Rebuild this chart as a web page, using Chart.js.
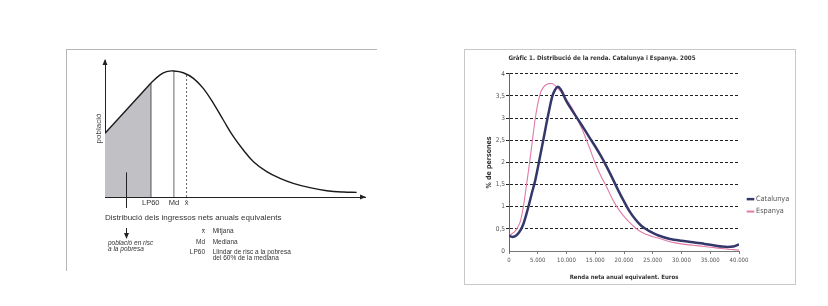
<!DOCTYPE html>
<html lang="ca">
<head>
<meta charset="utf-8">
<title>Distribució de la renda</title>
<script src="https://cdn.jsdelivr.net/npm/chart.js@4/dist/chart.umd.min.js"></script>
<style>
  body { margin: 0; background: #fff; width: 828px; height: 306px; position: relative; overflow: hidden; }
  .marc-esquema { position: absolute; left: 66px; top: 49px; width: 310px; height: 221px; border-top: 1px solid #b5b5b5; border-left: 1px solid #b5b5b5; }
  .marc-grafic { position: absolute; left: 464px; top: 49px; width: 330px; height: 234px; border: 1px solid #c8c8c8; }
  #esquema { position: absolute; left: 66px; top: 49px; }
  #grafic { position: absolute; left: 465px; top: 50px; }
</style>
</head>
<body>
<div class="marc-esquema"></div>
<div class="marc-grafic"></div>
<canvas id="esquema" width="314" height="215"></canvas>
<canvas id="grafic" width="329" height="233"></canvas>
<script>
// esquema de l'esquerra (unitats arbitràries 0-100)
const riscX = [0, 17.6];
const riscY = [46.5, 83];
const esquemaX = [17.6, 21.2, 23.7, 26.5, 30.1, 34.0, 37.8, 41.7, 45.5, 49.4, 53.2, 57.1, 62.2, 67.3, 72.4, 78.8, 85.3, 91.7, 96.8];
const esquemaY = [83.0, 89.1, 91.5, 92.0, 90.7, 86.6, 79.3, 68.4, 56.2, 44.0, 34.3, 25.8, 18.5, 13.6, 10.0, 6.8, 4.6, 3.6, 3.4];
const marques = [17.6, 26.5, 31.4];
const etiquetesMarques = ['LP60', 'Md', 'x̄'];
const alturesMarques = [83, 92, 90.3];
const puntRisc = 8;
const llegendaSimbols = ['x̄', 'Md', 'LP60'];
const llegendaTextos = [['Mitjana'], ['Mediana'], ['Llindar de risc a la pobresa', 'del 60% de la mediana']];

// Gràfic 1
const renda = [0, 500, 1000, 1500, 2000, 2500, 3000, 3500, 4000, 4500, 5000, 5500, 6000, 6500, 7000, 7500, 8000, 8500, 9000, 9500,
  10000, 11000, 12000, 13000, 14000, 15000, 16000, 17000, 18000, 19000, 20000, 21000, 22000, 23000, 24000, 25000, 26000,
  28000, 30000, 32000, 34000, 36000, 37000, 38000, 39000, 40000];
const catalunya = [0.35, 0.32, 0.33, 0.38, 0.47, 0.61, 0.82, 1.06, 1.32, 1.56, 1.87, 2.20, 2.53, 2.87, 3.19, 3.48, 3.64, 3.71, 3.65, 3.52,
  3.38, 3.17, 2.97, 2.77, 2.56, 2.36, 2.14, 1.90, 1.64, 1.37, 1.12, 0.89, 0.71, 0.57, 0.48, 0.41, 0.35,
  0.27, 0.23, 0.20, 0.16, 0.12, 0.10, 0.09, 0.10, 0.15];
const espanya = [0.36, 0.39, 0.44, 0.53, 0.68, 1.00, 1.45, 1.92, 2.42, 2.93, 3.32, 3.58, 3.70, 3.76, 3.78, 3.78, 3.74, 3.68, 3.60, 3.51,
  3.42, 3.22, 2.95, 2.66, 2.33, 1.98, 1.69, 1.44, 1.17, 0.95, 0.78, 0.64, 0.52, 0.43, 0.37, 0.32, 0.29,
  0.21, 0.16, 0.13, 0.10, 0.07, 0.06, 0.04, 0.03, 0.02];

const arial = '"Liberation Sans", Arial, sans-serif';
const estreta = '"Liberation Sans Narrow", "DejaVu Sans Condensed", "Liberation Sans", sans-serif';

function punts(arrX, arrY) {
    return arrX.map((x, i) => ({ x: x, y: arrY[i] }));
}

function fletxa(ctx, x, y, dx, dy) {
    // punta de fletxa que apunta en la direcció (dx, dy)
    const px = -dy, py = dx;
    ctx.beginPath();
    ctx.moveTo(x, y);
    ctx.lineTo(x - dx * 6 + px * 2.5, y - dy * 6 + py * 2.5);
    ctx.lineTo(x - dx * 6 - px * 2.5, y - dy * 6 - py * 2.5);
    ctx.closePath();
    ctx.fill();
}

const anotacionsEsquema = {
    id: "anotacionsEsquema",
    afterDraw(chart) {
        const { ctx, chartArea: a, scales: { x, y } } = chart;
        ctx.save();
        ctx.fillStyle = "#222";
        ctx.strokeStyle = "#222";
        ctx.lineWidth = 1;

        // fletxes dels eixos
        fletxa(ctx, a.left, a.top - 1, 0, -1);
        fletxa(ctx, a.right + 1, a.bottom, 1, 0);

        // fletxa cap a "població en risc"
        const fx = Math.round(x.getPixelForValue(puntRisc)) + 0.5;
        ctx.beginPath();
        ctx.moveTo(fx, y.getPixelForValue(18));
        ctx.lineTo(fx, a.bottom + 11);
        ctx.moveTo(fx, a.bottom + 31);
        ctx.lineTo(fx, a.bottom + 38);
        ctx.stroke();
        fletxa(ctx, fx, a.bottom + 42, 0, 1);

        ctx.fillStyle = "#333";
        ctx.textBaseline = "middle";
        ctx.font = "italic 6.5px " + arial;
        ctx.fillText("població en risc", a.left + 3, a.bottom + 45.7);
        ctx.fillText("a la pobresa", a.left + 3, a.bottom + 52);

        // llegenda dels símbols
        ctx.font = "6.5px " + arial;
        let fila = a.bottom + 34.7;
        llegendaSimbols.forEach((simbol, i) => {
            ctx.textAlign = "right";
            ctx.fillText(simbol, a.left + 100, fila);
            ctx.textAlign = "left";
            llegendaTextos[i].forEach((t, j) => {
                ctx.fillText(t, a.left + 107.7, fila + j * 6);
            });
            fila += 10.5;
        });
        ctx.restore();
    }
};

new Chart(document.getElementById("esquema"), {
    type: "line",
    data: {
        datasets: [
            {
                label: "risc",
                data: punts(riscX, riscY),
                fill: "origin",
                backgroundColor: "#c1c1c5",
                borderColor: "#1a1a1a",
                borderWidth: 1.4,
                pointRadius: 0,
                tension: 0
            },
            {
                label: "distribució",
                data: punts(esquemaX, esquemaY),
                fill: false,
                borderColor: "#1a1a1a",
                borderWidth: 1.4,
                pointRadius: 0,
                tension: 0.4
            },
            ...marques.map((m, i) => ({
                label: etiquetesMarques[i],
                data: [{ x: m, y: 0 }, { x: m, y: alturesMarques[i] }],
                fill: false,
                borderColor: i === 0 ? "#1a1a1a" : "#444",
                borderWidth: i === 0 ? 1.2 : 0.8,
                borderDash: i === 2 ? [2, 2] : [],
                pointRadius: 0
            }))
        ]
    },
    options: {
        responsive: false,
        animation: false,
        layout: { padding: { top: 11, right: 15 } },
        plugins: {
            legend: { display: false },
            tooltip: { enabled: false }
        },
        scales: {
            x: {
                type: "linear",
                min: 0,
                max: 100,
                grid: { display: false, drawTicks: false },
                border: { color: "#222", width: 1 },
                afterBuildTicks: scale => { scale.ticks = marques.map(v => ({ value: v })); },
                afterFit: scale => { scale.height = 67; },
                ticks: {
                    autoSkip: false,
                    maxRotation: 0,
                    padding: 1,
                    color: "#333",
                    font: { family: arial, size: 7.5 },
                    callback: (v, i) => etiquetesMarques[i]
                },
                title: {
                    display: true,
                    text: "Distribució dels ingressos nets anuals equivalents",
                    align: "start",
                    color: "#333",
                    font: { family: arial, size: 8 },
                    padding: { top: 0, bottom: 41.2 }
                }
            },
            y: {
                min: 0,
                max: 100,
                grid: { display: false, drawTicks: false },
                border: { color: "#222", width: 1 },
                ticks: { display: false },
                afterFit: scale => { scale.width = 39; },
                title: {
                    display: true,
                    text: "població",
                    color: "#444",
                    font: { family: arial, size: 8 },
                    padding: { top: 27.7, bottom: 0 }
                }
            }
        }
    },
    plugins: [anotacionsEsquema]
});

const llegendaGrafic = {
    id: "llegendaGrafic",
    afterDraw(chart) {
        const { ctx, chartArea: a } = chart;
        ctx.save();
        ctx.font = "7.3px " + estreta;
        ctx.textBaseline = "middle";
        chart.data.datasets.forEach((ds, i) => {
            const y = a.top + 125.3 + i * 12.4;
            ctx.strokeStyle = ds.borderColor;
            ctx.lineWidth = i === 0 ? 2.5 : 2;
            ctx.beginPath();
            ctx.moveTo(a.right + 7.7, y);
            ctx.lineTo(a.right + 15.3, y);
            ctx.stroke();
            ctx.fillStyle = "#555";
            ctx.fillText(ds.label, a.right + 17, y);
        });
        ctx.restore();
    }
};

new Chart(document.getElementById("grafic"), {
    type: "line",
    data: {
        datasets: [
            {
                label: "Catalunya",
                data: punts(renda, catalunya),
                borderColor: "#33376a",
                borderWidth: 2.5,
                pointRadius: 0,
                tension: 0.3,
                fill: false
            },
            {
                label: "Espanya",
                data: punts(renda, espanya),
                borderColor: "#e27aa8",
                borderWidth: 1.1,
                pointRadius: 0,
                tension: 0.3,
                fill: false
            }
        ]
    },
    options: {
        responsive: false,
        animation: false,
        layout: { padding: { right: 55 } },
        plugins: {
            legend: { display: false },
            tooltip: { enabled: false },
            title: {
                display: true,
                text: "Gràfic 1. Distribució de la renda. Catalunya i Espanya. 2005",
                color: "#333",
                font: { family: estreta, size: 6.2, weight: "bold" },
                padding: { top: 4.4, bottom: 12 }
            }
        },
        scales: {
            x: {
                type: "linear",
                min: 0,
                max: 40000,
                afterFit: scale => { scale.height = 32; },
                grid: { drawOnChartArea: false, tickLength: 3, color: "#777" },
                border: { color: "#777", width: 1 },
                ticks: {
                    stepSize: 5000,
                    maxRotation: 0,
                    padding: 3,
                    color: "#555",
                    font: { family: estreta, size: 6 },
                    callback: v => String(v).replace(/\B(?=(\d{3})+(?!\d))/g, ".")
                },
                title: {
                    display: true,
                    text: "Renda neta anual equivalent. Euros",
                    color: "#333",
                    font: { family: estreta, size: 6, weight: "bold" },
                    padding: { top: 0, bottom: 2.3 }
                }
            },
            y: {
                min: 0,
                max: 4,
                afterFit: scale => { scale.width = 44; },
                grid: {
                    tickLength: 3,
                    color: ctx => ctx.tick && ctx.tick.value === 0 ? "rgba(0,0,0,0)" : "#222"
                },
                border: { color: "#666", width: 1, dash: [3, 2] },
                ticks: {
                    stepSize: 0.5,
                    padding: 1,
                    color: "#555",
                    font: { family: estreta, size: 6.5 },
                    callback: v => String(v).replace(".", ",")
                },
                title: {
                    display: true,
                    text: "% de persones",
                    color: "#333",
                    font: { family: estreta, size: 7, weight: "bold" },
                    padding: { top: 20, bottom: 0 }
                }
            }
        }
    },
    plugins: [llegendaGrafic]
});
</script>
</body>
</html>
